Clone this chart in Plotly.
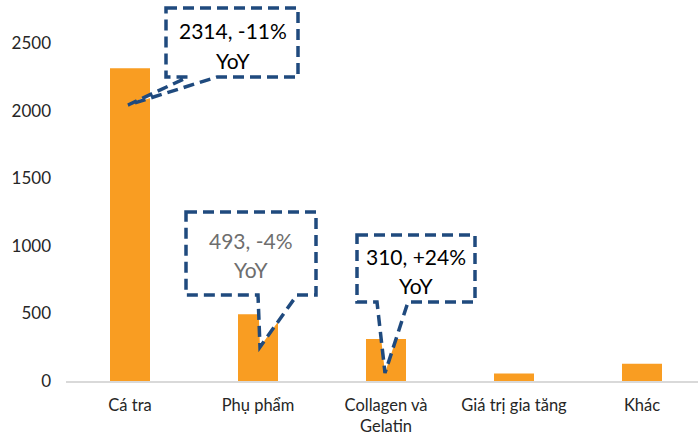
import plotly.graph_objects as go

# Revenue by product group
categories = ["Cá tra", "Phụ phẩm", "Collagen và<br>Gelatin", "Giá trị gia tăng", "Khác"]
values = [2314, 493, 310, 55, 127]
yoy = ["-11%", "-4%", "+24%"]
tick_vals = [0, 500, 1000, 1500, 2000, 2500]

BAR_COLOR = "#F99D22"
LINE_COLOR = "#1F4A7E"
FONT = "Lato"

# Plot geometry (pixels) used to place the callout boxes
W, H = 698, 435
L, B, T = 66, 54, 0
PLOT_W = W - L
PLOT_H = H - B - T
CAT_PX = 128
X_MIN = -0.5
X_MAX = X_MIN + PLOT_W / CAT_PX
Y_MAX = 2818


def px_x(px):
    return X_MIN + (px - L) / CAT_PX


def px_y(py):
    return (T + PLOT_H - py) * Y_MAX / PLOT_H


# callout: box left, top, right, bottom, pointer base left/right, tip x/y, text centre, text colour
callouts = [
    dict(box=(166, 8, 298, 77), base=(188, 217), tip=(128, 105), text=(233, 30, 60), color="#000000"),
    dict(box=(186, 212, 316, 295), base=(258, 297), tip=(260, 347), text=(251, 240, 269), color="#6E6E6E"),
    dict(box=(357, 235, 475, 302), base=(377, 408), tip=(385, 373), text=(416, 256, 285), color="#000000"),
]

x_idx = list(range(len(categories)))

fig = go.Figure(
    go.Bar(
        x=x_idx,
        y=values,
        marker=dict(color=BAR_COLOR, line=dict(width=0)),
        width=40 / CAT_PX,
        hoverinfo="skip",
    )
)

shapes = []
annotations = []
for i, c in enumerate(callouts):
    l, t, r, b = c["box"]
    bl, br = c["base"]
    tx, ty = c["tip"]
    pts = [(l, t), (r, t), (r, b), (br, b), (tx, ty), (bl, b), (l, b)]
    path = "M " + " L ".join(f"{px_x(x):.5f},{px_y(y):.3f}" for x, y in pts) + " Z"
    shapes.append(
        dict(
            type="path",
            xref="x",
            yref="y",
            path=path,
            fillcolor="white",
            line=dict(color=LINE_COLOR, width=3.5, dash="11px,6px"),
            layer="above",
        )
    )
    cx, y1, y2 = c["text"]
    for line_text, yy in ((f"{values[i]}, {yoy[i]}", y1), ("YoY", y2)):
        annotations.append(
            dict(
                x=px_x(cx),
                y=px_y(yy),
                xref="x",
                yref="y",
                text=line_text,
                showarrow=False,
                xanchor="center",
                yanchor="middle",
                font=dict(family=FONT, size=21, color=c["color"]),
            )
        )

fig.update_layout(
    width=W,
    height=H,
    margin=dict(l=L, r=0, t=T, b=B, pad=0),
    paper_bgcolor="white",
    plot_bgcolor="white",
    showlegend=False,
    font=dict(family=FONT, size=17, color="#262626"),
    shapes=shapes,
    annotations=annotations,
    xaxis=dict(
        range=[X_MIN, X_MAX],
        automargin=False,
        tickmode="array",
        tickvals=x_idx,
        ticktext=categories,
        showgrid=False,
        zeroline=False,
        showline=True,
        linecolor="#D9D9D9",
        linewidth=2,
        ticks="",
        ticklabelstandoff=8,
        tickfont=dict(family=FONT, size=16.5, color="#262626"),
    ),
    yaxis=dict(
        range=[0, Y_MAX],
        automargin=False,
        tickmode="array",
        tickvals=tick_vals,
        showgrid=False,
        zeroline=False,
        showline=False,
        ticks="",
        ticklabelstandoff=14,
        tickfont=dict(family=FONT, size=17, color="#262626"),
    ),
)

fig.write_html("out.html")
